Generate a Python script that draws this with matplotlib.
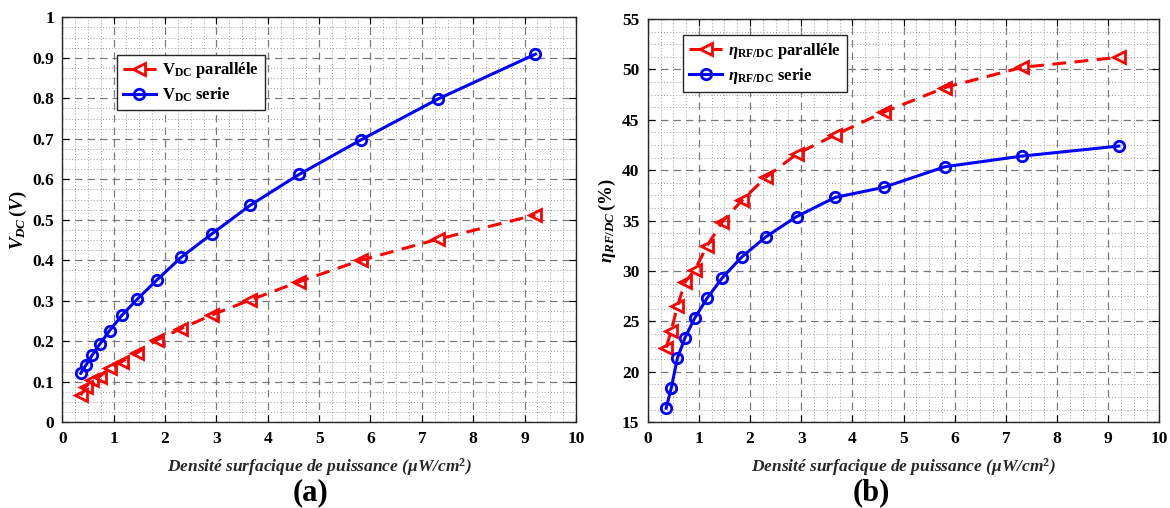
import matplotlib
matplotlib.use("Agg")
import matplotlib.pyplot as plt
from matplotlib.ticker import MultipleLocator

plt.rcParams['font.family'] = ['Liberation Serif', 'DejaVu Serif']
plt.rcParams['font.weight'] = 'bold'
plt.rcParams['mathtext.fontset'] = 'custom'
plt.rcParams['mathtext.rm'] = 'Liberation Serif:bold'
plt.rcParams['mathtext.it'] = 'Liberation Serif:italic:bold'
plt.rcParams['mathtext.bf'] = 'Liberation Serif:bold'

# Data
density = [0.36, 0.46, 0.58, 0.73, 0.92, 1.16, 1.46, 1.84, 2.31, 2.91, 3.66, 4.61, 5.81, 7.31, 9.21]
vdc_parallele = [0.067, 0.088, 0.104, 0.113, 0.133, 0.150, 0.172, 0.203, 0.231, 0.265, 0.302, 0.347, 0.400, 0.452, 0.512]
vdc_serie = [0.121, 0.141, 0.165, 0.193, 0.226, 0.264, 0.304, 0.351, 0.407, 0.465, 0.536, 0.612, 0.697, 0.798, 0.909]
eta_parallele = [22.4, 24.1, 26.5, 28.9, 30.1, 32.5, 34.9, 37.0, 39.3, 41.6, 43.5, 45.75, 48.2, 50.2, 51.2]
eta_serie = [16.4, 18.4, 21.35, 23.4, 25.35, 27.3, 29.35, 31.4, 33.4, 35.4, 37.3, 38.3, 40.35, 41.4, 42.4]

xlabel_text = r'Densité surfacique de puissance ($\mu$W/cm$^{2}$)'

fig = plt.figure(figsize=(11.7, 5.08), dpi=100)
ax1 = fig.add_axes([0.0532, 0.1687, 0.4391, 0.7973])
ax2 = fig.add_axes([0.5536, 0.1687, 0.4373, 0.7939])

red_kw = dict(color='#ff0000', linestyle=(0, (4.5, 2.8)), linewidth=2.2, marker='<',
              markersize=9, markerfacecolor='none', markeredgewidth=2.0)
blue_kw = dict(color='#0000ff', linestyle='-', linewidth=2.2, marker='o',
               markersize=7.5, markerfacecolor='none', markeredgewidth=2.0)

ax1.plot(density, vdc_parallele, label=r'V$_{\mathrm{DC}}$ paralléle', **red_kw)
ax1.plot(density, vdc_serie, label=r'V$_{\mathrm{DC}}$ serie', **blue_kw)
ax2.plot(density, eta_parallele, label=r'$\eta_{\mathrm{RF/DC}}$ paralléle', **red_kw)
ax2.plot(density, eta_serie, label=r'$\eta_{\mathrm{RF/DC}}$ serie', **blue_kw)

ax1.set_xlim(0, 10)
ax1.set_ylim(0, 1)
ax1.xaxis.set_major_locator(MultipleLocator(1))
ax1.xaxis.set_minor_locator(MultipleLocator(0.25))
ax1.yaxis.set_minor_locator(MultipleLocator(0.025))
ax1.set_yticks([0, 0.1, 0.2, 0.3, 0.4, 0.5, 0.6, 0.7, 0.8, 0.9, 1.0])
ax1.set_yticklabels(['0', '0.1', '0.2', '0.3', '0.4', '0.5', '0.6', '0.7', '0.8', '0.9', '1'])

ax2.set_xlim(0, 10)
ax2.set_ylim(15, 55)
ax2.xaxis.set_major_locator(MultipleLocator(1))
ax2.xaxis.set_minor_locator(MultipleLocator(0.25))
ax2.yaxis.set_major_locator(MultipleLocator(5))
ax2.yaxis.set_minor_locator(MultipleLocator(1.25))

for ax in (ax1, ax2):
    ax.grid(True, which='major', linestyle=(0, (6, 4)), color='#7a7a7a', linewidth=0.9)
    ax.grid(True, which='minor', linestyle=(0, (1, 2.2)), color='#9a9a9a', linewidth=0.7)
    ax.set_axisbelow(True)
    ax.tick_params(which='major', direction='in', length=5, width=0.8, top=True, right=True,
                   labelsize=12.5, pad=6)
    ax.tick_params(which='minor', length=0)
    for lab in ax.get_xticklabels() + ax.get_yticklabels():
        lab.set_fontweight('bold')
    for sp in ax.spines.values():
        sp.set_linewidth(1.0)
        sp.set_color('#262626')
    ax.set_xlabel(xlabel_text, fontsize=12.5, fontstyle='italic', fontweight='bold', labelpad=7,
                  color='#262626')

ax1.set_ylabel(r'$V_{DC}\,(V)$', fontsize=13.5, labelpad=2)
ax2.set_ylabel(r'$\eta_{RF/DC}\,(\%)$', fontsize=13.5, labelpad=3)

leg_kw = dict(fontsize=12, frameon=True, fancybox=False, edgecolor='#262626',
              framealpha=1, handlelength=2.0, borderpad=0.35, labelspacing=0.3,
              handletextpad=0.35, borderaxespad=0)
l1 = ax1.legend(loc='upper left', bbox_to_anchor=(0.1065, 0.908), **leg_kw)
l2 = ax2.legend(loc='upper left', bbox_to_anchor=(0.0696, 0.960), **leg_kw)
for l in (l1, l2):
    l.get_frame().set_linewidth(1.0)

fig.text(0.265, 0.030, '(a)', fontsize=22, fontweight='bold', ha='center', va='center')
fig.text(0.745, 0.030, '(b)', fontsize=22, fontweight='bold', ha='center', va='center')

fig.savefig('out.png', dpi=100)
